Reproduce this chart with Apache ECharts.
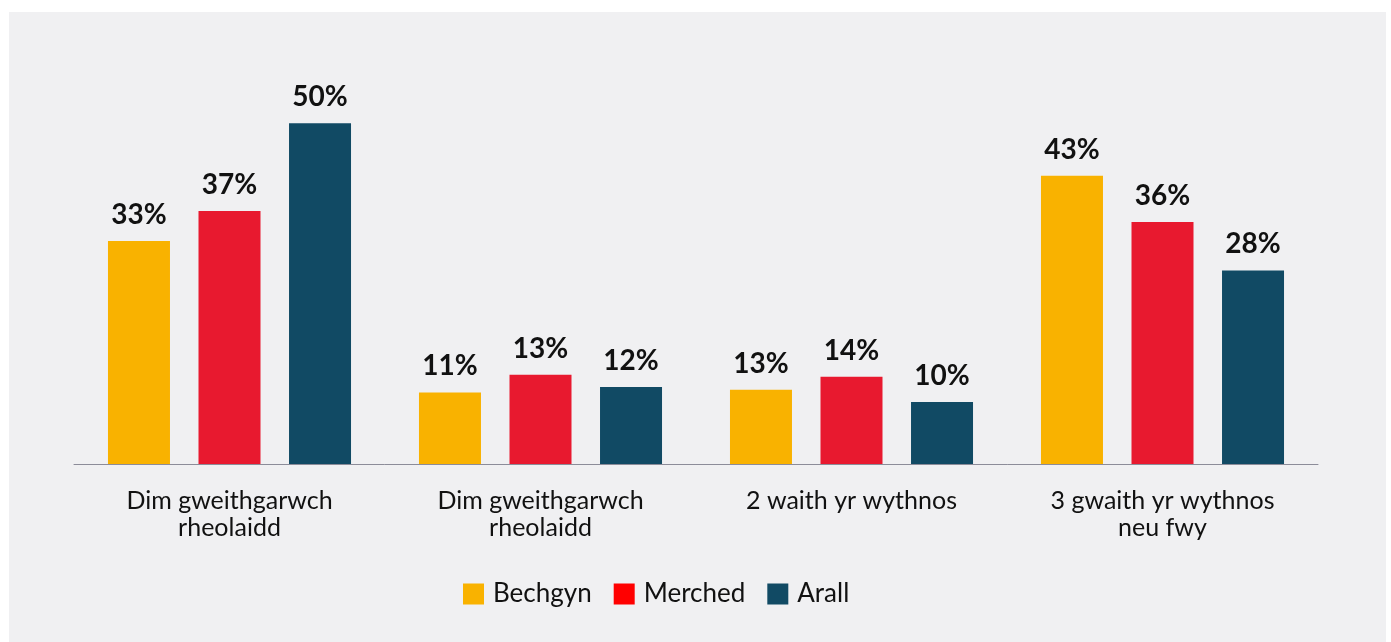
<!DOCTYPE html>
<html lang="cy">
<head>
<meta charset="UTF-8">
<title>Gweithgarwch corfforol</title>
<script src="https://cdn.jsdelivr.net/npm/echarts@6/dist/echarts.min.js"></script>
<style>
html, body { margin: 0; padding: 0; background: #ffffff; }
.panel { position: absolute; left: 9px; top: 12px; width: 1377px; height: 630px; background: #f0f0f2; }
#chart { position: absolute; left: 0; top: 0; width: 1391px; height: 642px; }
</style>
</head>
<body>
<div class="panel"></div>
<div id="chart"></div>
<script>
const categories = ['Dim gweithgarwch\nrheolaidd', 'Dim gweithgarwch\nrheolaidd', '2 waith yr wythnos', '3 gwaith yr wythnos\nneu fwy'];
// bar heights as drawn, labels as printed
const bechgyn = [32.7, 10.5, 10.9, 42.3];
const merched = [37.1, 13.1, 12.8, 35.5];
const arall = [50, 11.3, 9.1, 28.4];
const bechgynLabels = ['33%', '11%', '13%', '43%'];
const merchedLabels = ['37%', '13%', '14%', '36%'];
const arallLabels = ['50%', '12%', '10%', '28%'];

const font = 'Lato, "Noto Sans", sans-serif';

function barSeries(name, values, labels, color) {
return {
name: name,
type: 'bar',
data: values,
barWidth: 62,
barGap: '46%',
itemStyle: { color: color },
label: {
show: true,
position: 'top',
distance: 12,
formatter: p => labels[p.dataIndex],
color: '#111111',
fontFamily: font,
fontWeight: 'bold',
fontSize: 28
}
};
}

const chart = echarts.init(document.getElementById('chart'));
chart.setOption({
backgroundColor: 'transparent',
animation: false,
grid: { left: 74, right: 73, top: 55, bottom: 178, containLabel: false },
legend: {
left: 458,
top: 576,
itemWidth: 21,
itemHeight: 21,
itemGap: 22,
icon: 'rect',
textStyle: { fontFamily: font, fontSize: 26, color: '#111111', padding: [0, 0, 0, 4] },
data: [
{ name: 'Bechgyn', itemStyle: { color: '#f9b200' } },
{ name: 'Merched', itemStyle: { color: '#ff0000' } },
{ name: 'Arall', itemStyle: { color: '#114a64' } }
]
},
xAxis: {
type: 'category',
data: categories,
axisLine: { lineStyle: { color: '#8c8c99', width: 1 } },
axisTick: { show: false },
axisLabel: {
margin: 23,
color: '#111111',
fontFamily: font,
fontSize: 25,
lineHeight: 27,
interval: 0
}
},
yAxis: {
type: 'value',
min: 0,
max: 60,
show: false
},
series: [
barSeries('Bechgyn', bechgyn, bechgynLabels, '#f9b200'),
barSeries('Merched', merched, merchedLabels, '#e8192f'),
barSeries('Arall', arall, arallLabels, '#114a64')
]
});
</script>
</body>
</html>
